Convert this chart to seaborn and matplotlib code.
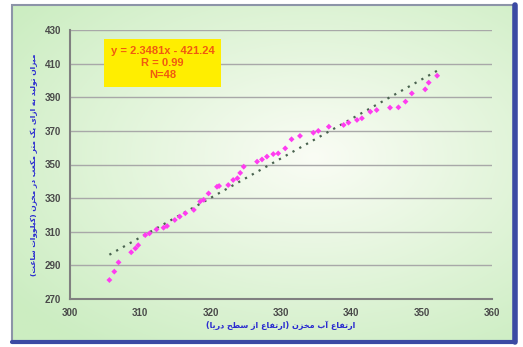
import numpy as np
import pandas as pd
import seaborn as sns
import matplotlib.pyplot as plt
from matplotlib.patches import Rectangle

# data
elevation = [305.6, 306.3, 306.9, 308.7, 309.3, 309.7, 310.7, 311.3, 312.3, 313.3,
             313.8, 314.9, 315.6, 316.4, 317.6, 318.5, 319.0, 319.7, 320.9, 321.2,
             322.5, 323.2, 323.8, 324.2, 324.7, 326.6, 327.3, 328.0, 328.9, 329.6,
             330.6, 331.5, 332.7, 334.6, 335.3, 336.8, 338.9, 339.6, 340.8, 341.5,
             342.7, 343.6, 345.5, 346.7, 347.7, 348.6, 350.5, 351.0, 352.2]
production = [281.3, 286.3, 291.8, 297.8, 300.1, 302.0, 308.0, 309.0, 311.4, 312.4,
              313.4, 317.0, 319.0, 321.0, 323.0, 328.0, 329.0, 332.8, 336.8, 337.2,
              337.8, 340.8, 341.8, 345.0, 348.7, 351.7, 353.0, 354.7, 356.2, 356.6,
              359.6, 365.0, 367.0, 368.9, 370.0, 372.5, 373.5, 374.9, 376.5, 377.5,
              381.4, 382.4, 383.8, 384.0, 387.4, 392.3, 394.7, 398.7, 402.8]
slope = 2.3481
intercept = -421.24
x_ticks = [300, 310, 320, 330, 340, 350, 360]
y_ticks = [270, 290, 310, 330, 350, 370, 390, 410, 430]
eq_text = "y = 2.3481x - 421.24\nR = 0.99\nN=48"
x_label = "ارتفاع آب مخزن (ارتفاع از سطح دریا)"
y_label = "میزان تولید به ازای یک متر مکعب در مخزن (کیلووات ساعت)"

# tiny persian shaper (no bidi lib in the sandbox)
forms = {
    'ا': (0xFE8D, 0xFE8E, None, None), 'آ': (0xFE81, 0xFE82, None, None),
    'ب': (0xFE8F, 0xFE90, 0xFE91, 0xFE92), 'ت': (0xFE95, 0xFE96, 0xFE97, 0xFE98),
    'ح': (0xFEA1, 0xFEA2, 0xFEA3, 0xFEA4), 'خ': (0xFEA5, 0xFEA6, 0xFEA7, 0xFEA8),
    'د': (0xFEA9, 0xFEAA, None, None), 'ر': (0xFEAD, 0xFEAE, None, None),
    'ز': (0xFEAF, 0xFEB0, None, None), 'س': (0xFEB1, 0xFEB2, 0xFEB3, 0xFEB4),
    'ط': (0xFEC1, 0xFEC2, 0xFEC3, 0xFEC4), 'ع': (0xFEC9, 0xFECA, 0xFECB, 0xFECC),
    'ف': (0xFED1, 0xFED2, 0xFED3, 0xFED4), 'ق': (0xFED5, 0xFED6, 0xFED7, 0xFED8),
    'ل': (0xFEDD, 0xFEDE, 0xFEDF, 0xFEE0), 'م': (0xFEE1, 0xFEE2, 0xFEE3, 0xFEE4),
    'ن': (0xFEE5, 0xFEE6, 0xFEE7, 0xFEE8), 'ه': (0xFEE9, 0xFEEA, 0xFEEB, 0xFEEC),
    'و': (0xFEED, 0xFEEE, None, None), 'ک': (0xFB8E, 0xFB8F, 0xFB90, 0xFB91),
    'ی': (0xFBFC, 0xFBFD, 0xFBFE, 0xFBFF),
}


def shape(s):
    out = []
    for i, c in enumerate(s):
        if c not in forms:
            out.append(c)
            continue
        f = forms[c]
        prev = s[i - 1] if i > 0 else ''
        nxt = s[i + 1] if i + 1 < len(s) else ''
        join_prev = prev in forms and forms[prev][2] is not None
        join_next = f[2] is not None and nxt in forms
        if join_prev and join_next:
            out.append(chr(f[3]))
        elif join_prev:
            out.append(chr(f[1]))
        elif join_next:
            out.append(chr(f[2]))
        else:
            out.append(chr(f[0]))
    vis = ''.join(reversed(out))
    return vis.translate(str.maketrans('()', ')('))


sns.set_style("white")
plt.rcParams['font.family'] = ['Liberation Sans', 'DejaVu Sans']

fig = plt.figure(figsize=(5.23, 3.47), dpi=100)

# gradient background panel
bg = fig.add_axes([12 / 523, 5 / 347, 503 / 523, 337 / 347], zorder=0)
gx, gy = np.meshgrid(np.linspace(0, 1, 200), np.linspace(0, 1, 200))
d = np.sqrt(((gx - 0.6) / 0.75) ** 2 + ((gy - 0.45) / 0.7) ** 2)
t = np.clip(d, 0, 1)[..., None]
white = np.array([0.98, 0.99, 0.96])
green = np.array([0.80, 0.93, 0.76])
bg.imshow(white * (1 - t) + green * t, aspect='auto', extent=[0, 1, 0, 1])
bg.set_xlim(0, 1)
bg.set_ylim(0, 1)
bg.axis('off')
bg.add_patch(Rectangle((0, 0), 1, 1, fill=False, ec='#8c94a8', lw=1.5,
                       transform=bg.transAxes, clip_on=False))
bg.plot([1, 1], [0, 1], color='#3b4aa3', lw=4, transform=bg.transAxes, clip_on=False)
bg.plot([0, 1], [0, 0], color='#3b4aa3', lw=3, transform=bg.transAxes, clip_on=False)

ax = fig.add_axes([70 / 523, 1 - 299 / 347, 422 / 523, 269 / 347], zorder=1)
ax.patch.set_alpha(0)

df = pd.DataFrame({'x': elevation, 'y': production})
sns.scatterplot(data=df, x='x', y='y', ax=ax, marker='D', s=9,
                color='#ff3cf0', edgecolor='none', zorder=3)

x_fit = np.array([min(elevation), max(elevation)])
ax.plot(x_fit, slope * x_fit + intercept, linestyle=(0, (1, 2.5)),
        color='#4a6350', lw=1.6, zorder=2)

ax.set_xlim(300, 360)
ax.set_ylim(270, 430)
ax.set_xticks(x_ticks)
ax.set_yticks(y_ticks)
ax.yaxis.grid(True, color='#a8a8a8', lw=1.0)
ax.tick_params(axis='both', labelsize=7, colors='#555555', length=3, width=1)
for lab in ax.get_xticklabels() + ax.get_yticklabels():
    lab.set_fontweight('bold')
    lab.set_color('#4a4a4a')
for s in ['top', 'right']:
    ax.spines[s].set_visible(False)
for s in ['left', 'bottom']:
    ax.spines[s].set_color('#808080')
    ax.spines[s].set_linewidth(1.5)

ax.set_xlabel(shape(x_label), fontsize=5.8, color='#2a2ad0', fontweight='bold',
              family=['DejaVu Sans'], labelpad=2)
ax.set_ylabel(shape(y_label), fontsize=5.4, color='#2a2ad0', fontweight='bold',
              family=['DejaVu Sans'], labelpad=5)

ax.text(0.219, 0.877, eq_text, transform=ax.transAxes, ha='center', va='center',
        fontsize=8, fontweight='bold', color='#f05a10', linespacing=1.25,
        bbox=dict(boxstyle='square,pad=0.6', fc='#ffee00', ec='none'))

plt.savefig('out.png', dpi=100)
